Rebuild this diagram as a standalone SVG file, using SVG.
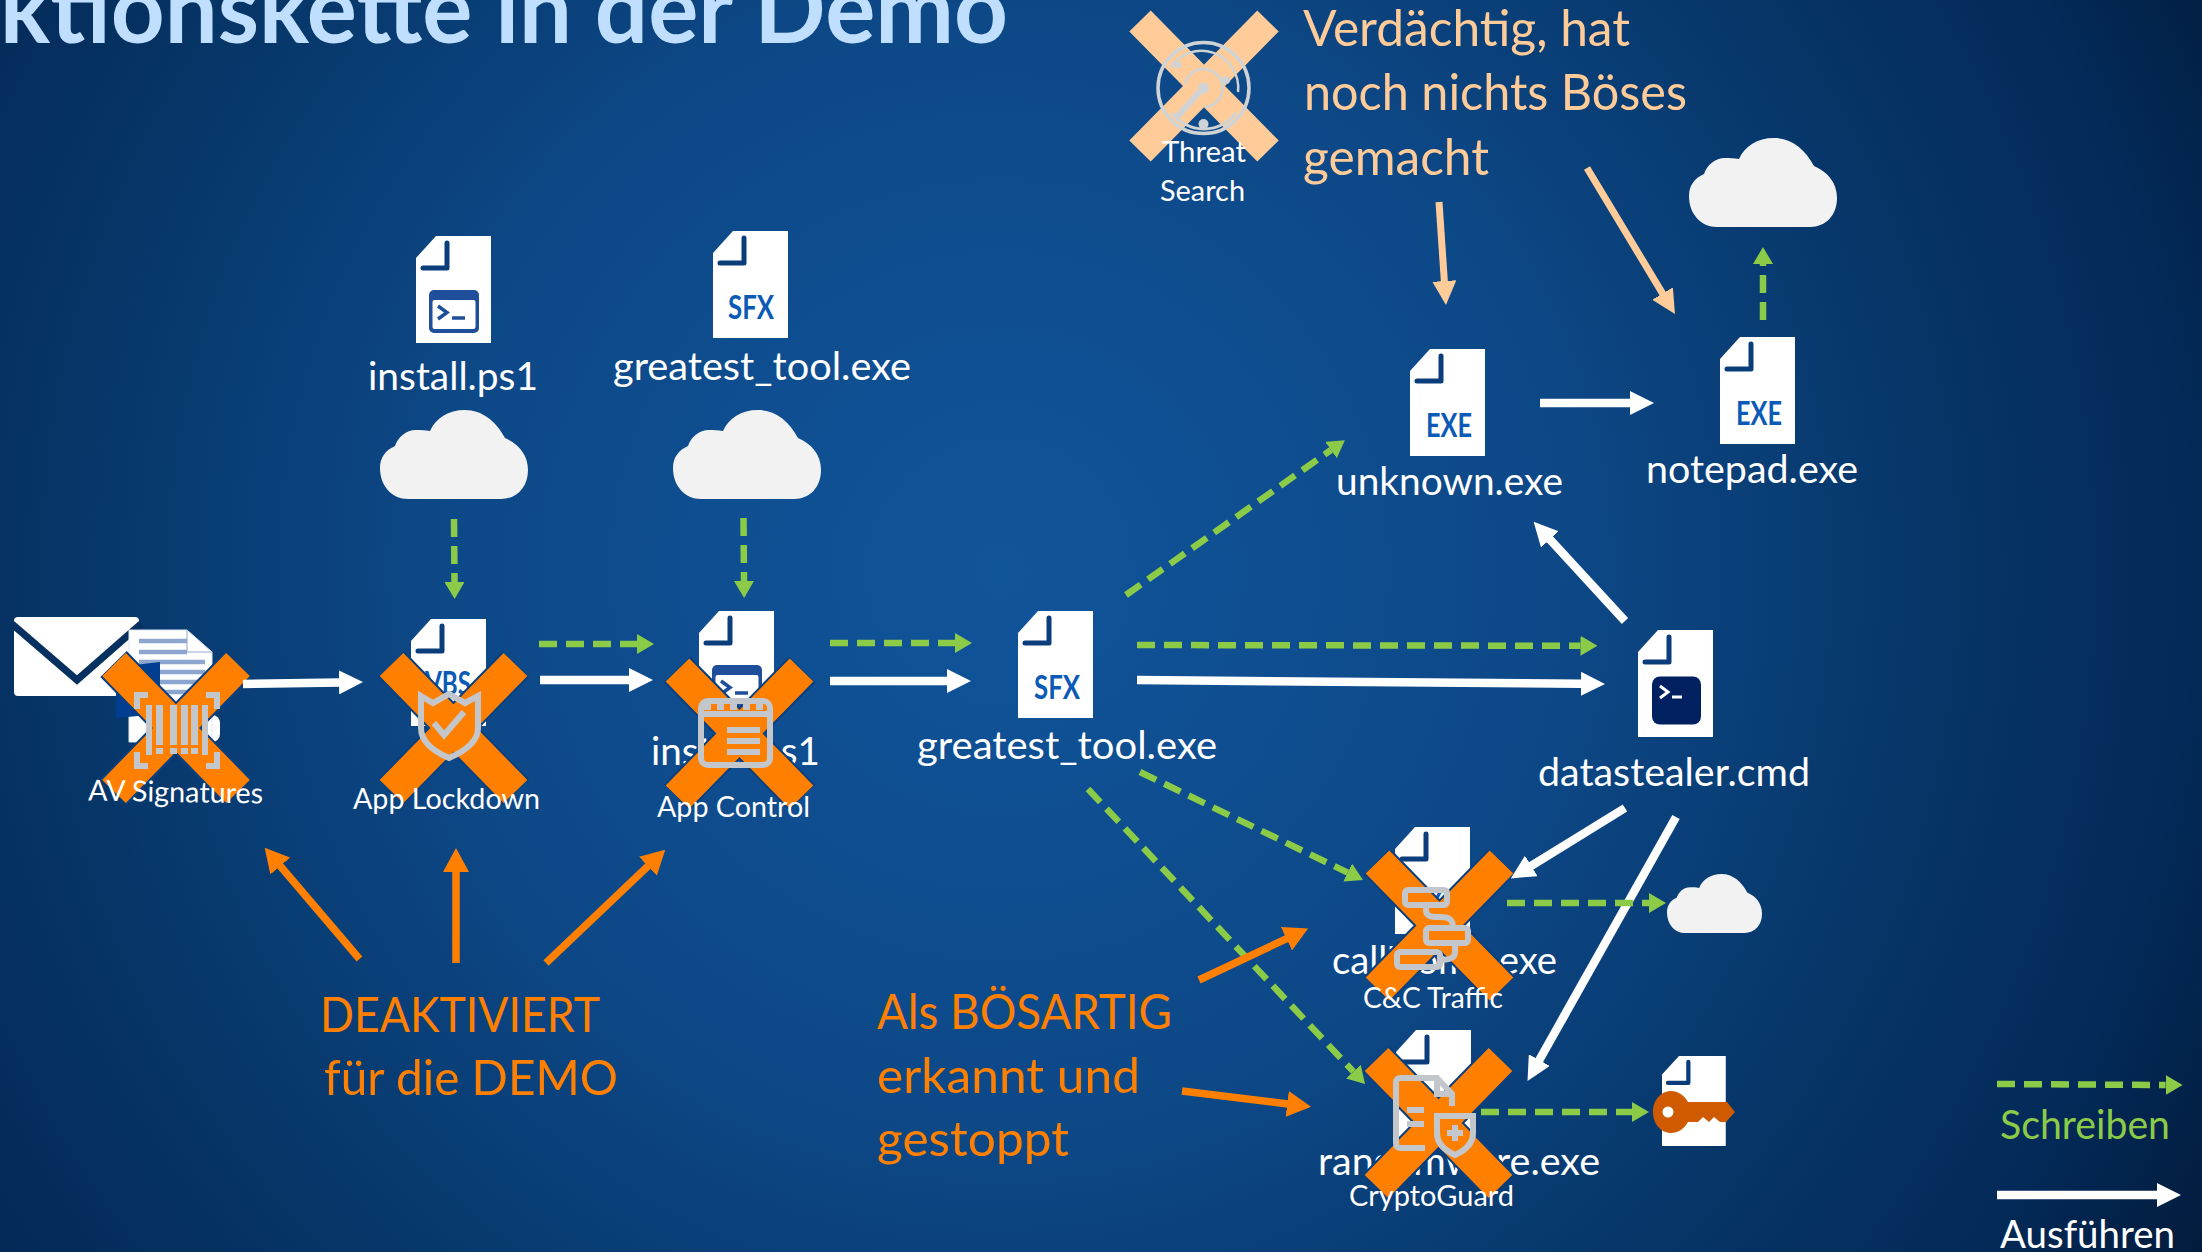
<svg xmlns="http://www.w3.org/2000/svg" xmlns:xlink="http://www.w3.org/1999/xlink" width="2202" height="1252" viewBox="0 0 2202 1252">
<style>
text{font-family:"Lato","Liberation Sans",sans-serif}
.l{fill:#fff;font-size:39px;transform:translateY(1.5px)}
.s{fill:#fff;font-size:29px}
.o{fill:#ff8000;font-size:49px;transform:translateY(1px)}
.p{fill:#ffcc99;font-size:50px;transform:translateY(1.5px)}
.ft{fill:#0b5ab5;font-size:33px;font-weight:700;text-anchor:middle}
.w{stroke:#fff;stroke-width:8.5;fill:none;marker-end:url(#mw)}
.g{stroke:#8ccb47;stroke-width:6.5;stroke-dasharray:18 9;fill:none;marker-end:url(#mg)}
.pa{stroke:#ffcc99;stroke-width:7;fill:none;marker-end:url(#mp)}
.oa{stroke:#ff8000;stroke-width:7.5;fill:none;marker-end:url(#mo)}
.gi{fill:none;stroke:#c3c7cb;stroke-width:6}
.gf{fill:#c3c7cb}
</style>
<defs>
<radialGradient id="bg" gradientUnits="userSpaceOnUse" cx="1000" cy="570" r="1400">
<stop offset="0" stop-color="#10549a"/>
<stop offset="0.4" stop-color="#0d4887"/>
<stop offset="0.72" stop-color="#053262"/>
<stop offset="0.85" stop-color="#032a58"/>
<stop offset="1" stop-color="#021a3a"/>
</radialGradient>
<marker id="mw" markerUnits="userSpaceOnUse" viewBox="0 -12 24 24" refX="1" refY="0" markerWidth="24" markerHeight="24" orient="auto"><path d="M0-12 24 0 0 12Z" fill="#fff"/></marker>
<marker id="mg" markerUnits="userSpaceOnUse" viewBox="0 -10 17 20" refX="0" refY="0" markerWidth="17" markerHeight="20" orient="auto"><path d="M0-10 17 0 0 10Z" fill="#8ccb47"/></marker>
<marker id="mp" markerUnits="userSpaceOnUse" viewBox="0 -12 24 24" refX="1" refY="0" markerWidth="24" markerHeight="24" orient="auto"><path d="M0-12 24 0 0 12Z" fill="#ffcc99"/></marker>
<marker id="mo" markerUnits="userSpaceOnUse" viewBox="0 -13 24 26" refX="1" refY="0" markerWidth="24" markerHeight="26" orient="auto"><path d="M0-13 24 0 0 13Z" fill="#ff8000"/></marker>
<g id="file">
<path d="M20 0H75V107H0V22Z" fill="#fff"/>
<path d="M31 7V32H7" fill="none" stroke="#0c3d7b" stroke-width="5" stroke-linecap="round" stroke-linejoin="round"/>
</g>
<g id="ps">
<rect x="13" y="54" width="50" height="43" rx="5" fill="#1f4e9a"/>
<rect x="16.500" y="64" width="43" height="29" rx="2" fill="#fff"/>
<path d="M22 70 31 76.500 22 83" fill="none" stroke="#1f4e9a" stroke-width="3.500"/>
<path d="M36 82H49" stroke="#1f4e9a" stroke-width="3.500"/>
</g>
<path id="cloud" d="M28 89C12 89 0 76 0 58C0 47 6 40 15 36C18 27 26 20 36 20C41 20 45 20 50 21C56 8 68 0 85 0C102 0 116 11 125 28C139 34 148 45 148 60C148 77 137 89 121 89Z" fill="#f2f2f2"/>
<g id="xo">
<path d="M-62.500-64 62.500 64M62.500-64-62.500 64" stroke="#0a3f80" stroke-width="37" fill="none"/>
<path d="M-62-63.500 62 63.500M62-63.500-62 63.500" stroke="#ff8000" stroke-width="33" fill="none"/>
</g>
</defs>
<rect width="2202" height="1252" fill="url(#bg)"/>
<text id="title" x="0" y="43" font-size="96" font-weight="700" fill="#c0dfff" textLength="1008" lengthAdjust="spacingAndGlyphs">ktionskette in der Demo</text>

<g id="node-install-top">
<use xlink:href="#file" x="416" y="236"/><use xlink:href="#ps" x="416" y="236"/>
<text class="l" x="368" y="388" textLength="170" lengthAdjust="spacingAndGlyphs">install.ps1</text>
</g>
<g id="node-greatest-top">
<use xlink:href="#file" x="713" y="231"/><text class="ft" x="751" y="319" textLength="46" lengthAdjust="spacingAndGlyphs">SFX</text>
<text class="l" x="613" y="378" textLength="298" lengthAdjust="spacingAndGlyphs">greatest_tool.exe</text>
</g>
<g id="node-cloud-1"><use xlink:href="#cloud" x="380" y="410"/></g>
<g id="node-cloud-2"><use xlink:href="#cloud" x="673" y="410"/></g>
<g id="node-cloud-3"><use xlink:href="#cloud" x="1689" y="138"/></g>
<g id="node-cloud-4"><use xlink:href="#cloud" transform="translate(1667 874) scale(.642 .663)"/></g>

<g id="node-email">
<rect x="14" y="617" width="125" height="79" rx="4" fill="#fff"/>
<path d="M12 624 77 680 141 624" fill="none" stroke="#05305f" stroke-width="7"/>
<rect x="132" y="715" width="88" height="27" rx="8" fill="#fff"/>
<path d="M129 630H187L212 652V742H129Z" fill="#fff" stroke="#dfe7f3" stroke-width="1"/>
<path d="M187 630V652H212" fill="none" stroke="#b8c8e0" stroke-width="1.500"/>
<path d="M139 641H187M139 652H187M139 662H205M139 672H205M139 682H205M139 692H205" stroke="#8da6cf" stroke-width="4.500"/>
<path d="M116 667 160 662V714L116 718Z" fill="#003e92"/>
<path d="M215 701H228V707H215Z" fill="#003e92"/>
</g>
<g id="node-av">
<use xlink:href="#xo" x="176" y="728"/>
<path class="gi" d="M148 695H137V709M206 695H217V709M148 766H137V752M206 766H217V752"/>
<path class="gf" d="M146 705h6v50h-6zM156 705h7v40h-7zM170 705h7v40h-7zM181 705h7v40h-7zM191 705h7v40h-7zM202 705h6v50h-6zM156 748h7v6h-7zM170 748h7v6h-7zM181 748h7v6h-7zM191 748h7v6h-7z"/>
<text class="s" x="88" y="802" textLength="175" lengthAdjust="spacingAndGlyphs" transform="rotate(1 175 802)">AV Signatures</text>
</g>
<g id="node-lockdown">
<use xlink:href="#file" x="411" y="619"/><text class="ft" x="448" y="695" textLength="46" lengthAdjust="spacingAndGlyphs">VBS</text>
<use xlink:href="#xo" x="453.500" y="728"/>
<path class="gi" d="M421 696 433 703 449 694 465 703 478 696V728C478 742 463 752 449 758C435 752 421 742 421 728Z"/>
<path class="gi" d="M434 723 444 735 464 712"/>
<text class="s" x="353" y="809" textLength="187" lengthAdjust="spacingAndGlyphs">App Lockdown</text>
</g>
<g id="node-control">
<use xlink:href="#file" x="699" y="611"/><use xlink:href="#ps" x="699" y="611"/>
<text class="l" x="651" y="763" textLength="169" lengthAdjust="spacingAndGlyphs">install.ps1</text>
<use xlink:href="#xo" x="739.500" y="733.500"/>
<rect class="gi" x="701" y="701" width="69" height="64" rx="7"/>
<path class="gi" d="M701 714H770"/>
<path class="gi" stroke-dasharray="7 6" d="M704 707H768"/>
<path class="gi" d="M727 730H760M727 741H760M727 752H760"/>
<text class="s" x="657" y="817" textLength="153" lengthAdjust="spacingAndGlyphs">App Control</text>
</g>
<g id="node-greatest">
<use xlink:href="#file" x="1018" y="611"/><text class="ft" x="1057" y="699" textLength="46" lengthAdjust="spacingAndGlyphs">SFX</text>
<text class="l" x="917" y="757" textLength="300" lengthAdjust="spacingAndGlyphs">greatest_tool.exe</text>
</g>
<g id="node-unknown">
<use xlink:href="#file" x="1410" y="349"/><text class="ft" x="1449" y="437" textLength="46" lengthAdjust="spacingAndGlyphs">EXE</text>
<text class="l" x="1336" y="493" textLength="227" lengthAdjust="spacingAndGlyphs">unknown.exe</text>
</g>
<g id="node-notepad">
<use xlink:href="#file" x="1720" y="337"/><text class="ft" x="1759" y="425" textLength="46" lengthAdjust="spacingAndGlyphs">EXE</text>
<text class="l" x="1646" y="481" textLength="212" lengthAdjust="spacingAndGlyphs">notepad.exe</text>
</g>
<g id="node-datastealer">
<use xlink:href="#file" x="1638" y="630"/>
<rect x="1652" y="676.500" width="49" height="48" rx="8" fill="#002060"/>
<path d="M1660 686 1668 692 1660 698" fill="none" stroke="#fff" stroke-width="3"/>
<path d="M1672 697H1682" stroke="#fff" stroke-width="3"/>
<text class="l" x="1538" y="784" textLength="272" lengthAdjust="spacingAndGlyphs">datastealer.cmd</text>
</g>
<g id="node-callhome">
<use xlink:href="#file" x="1395" y="827"/><text class="ft" x="1434" y="915" textLength="46" lengthAdjust="spacingAndGlyphs">EXE</text>
<text class="l" x="1332" y="972" textLength="225" lengthAdjust="spacingAndGlyphs">call'home.exe</text>
<use xlink:href="#xo" x="1439.500" y="925.500"/>
<rect class="gi" x="1405" y="890" width="42" height="15" rx="3"/>
<rect class="gi" x="1426" y="928" width="42" height="15" rx="3"/>
<rect class="gi" x="1397" y="952" width="43" height="15" rx="3"/>
<path class="gi" d="M1426 905V910C1426 916 1430 917 1440 917C1450 917 1453 920 1453 928M1455 943V952C1455 958 1450 960 1440 960"/>
<text class="s" x="1363" y="1008" textLength="140" lengthAdjust="spacingAndGlyphs">C&amp;C Traffic</text>
</g>
<g id="node-ransomware">
<use xlink:href="#file" x="1396" y="1030"/>
<text class="l" x="1318" y="1173" textLength="282" lengthAdjust="spacingAndGlyphs">ransomware.exe</text>
<use xlink:href="#xo" x="1438.500" y="1123"/>
<path class="gi" d="M1425 1148H1401C1397 1148 1396 1146 1396 1143V1083C1396 1080 1397 1078 1401 1078H1437L1452 1094V1106"/>
<path class="gi" d="M1437 1078V1094H1452"/>
<path class="gi" d="M1407 1110H1424M1407 1124H1424"/>
<path class="gi" d="M1437 1116H1473V1133C1473 1144 1464 1151 1455 1155C1446 1151 1437 1144 1437 1133Z"/>
<path class="gi" d="M1455 1125V1141M1447 1133H1463"/>
<text class="s" x="1349" y="1206" textLength="165" lengthAdjust="spacingAndGlyphs">CryptoGuard</text>
</g>
<g id="node-threat">
<path d="M1140 21 1268 151M1268 21 1140 151" stroke="#ffcc99" stroke-width="30" fill="none"/>
<g fill="none" stroke="#d0d3d6">
<circle cx="1203.500" cy="88" r="45.500" stroke-width="3.500"/>
<path d="M1170 68A37 37 0 0 1 1238 92" stroke-width="2.500"/>
<path d="M1185 84A19 19 0 1 1 1205 107" stroke-width="2.500"/>
<path d="M1172 113A40 40 0 0 0 1236 113" stroke-width="3"/>
<path d="M1203 88 1176 118" stroke-width="6"/>
</g>
<g fill="#d0d3d6"><circle cx="1203.500" cy="88" r="5.500"/><circle cx="1178" cy="65" r="3.500"/><circle cx="1226" cy="80" r="4"/><circle cx="1203.500" cy="124" r="5"/></g>
<text class="s" x="1162" y="162" textLength="84" lengthAdjust="spacingAndGlyphs">Threat</text>
<text class="s" x="1160" y="200.500" textLength="85" lengthAdjust="spacingAndGlyphs">Search</text>
</g>
<g id="node-keyfile">
<g transform="translate(1662 1056) scale(.85 .84)"><use xlink:href="#file"/></g>
<path d="M1671 1091C1678 1091 1684 1095 1688 1102H1727L1735 1112 1726 1122H1720L1714 1117 1709 1122 1703 1117 1698 1122H1688C1684 1129 1678 1133 1671 1133C1661 1133 1653 1124 1653 1112C1653 1100 1661 1091 1671 1091Z" fill="#d05a00"/>
<circle cx="1668" cy="1112" r="5.500" fill="#fff"/>
</g>

<g id="connectors">
<path class="w" d="M243 684 340 682.400"/>
<path class="w" d="M540 680H630"/>
<path class="w" d="M830 681H948"/>
<path class="w" d="M1137 680 1582 683.800"/>
<path class="w" d="M1540 403H1631"/>
<path class="w" d="M1625 621 1549.200 538.700"/>
<path class="w" d="M1625 808 1530.400 866.400"/>
<path class="w" d="M1676 817 1538.800 1061"/>
<path class="w" d="M1997 1195H2158"/>
<path class="g" d="M454 519 454.500 582"/>
<path class="g" d="M743.500 518 744 581"/>
<path class="g" d="M539 644H637"/>
<path class="g" d="M830 643H955"/>
<path class="g" d="M1137 645 1580.500 645.800"/>
<path class="g" d="M1126 595 1331 450"/>
<path class="g" d="M1140 772 1347.700 872.600"/>
<path class="g" d="M1088 789 1353.400 1071.600"/>
<path class="g" d="M1507 903H1649"/>
<path class="g" d="M1481 1112H1632"/>
<path class="g" d="M1763 320V264"/>
<path class="g" d="M1997 1084 2165.600 1085"/>
<path class="pa" d="M1439 202 1444.400 282"/>
<path class="pa" d="M1587 168 1663.100 294.400"/>
<path class="oa" d="M359.500 959 279.600 865.300"/>
<path class="oa" d="M456 963V871"/>
<path class="oa" d="M546 963 648.600 865.500"/>
<path class="oa" d="M1199 980 1287.300 938.300"/>
<path class="oa" d="M1182 1091 1288.200 1104"/>
</g>

<g id="notes">
<text class="p" x="1303" y="44" textLength="327" lengthAdjust="spacingAndGlyphs">Verdächtig, hat</text>
<text class="p" x="1304" y="108" textLength="383" lengthAdjust="spacingAndGlyphs">noch nichts Böses</text>
<text class="p" x="1303" y="173" textLength="186" lengthAdjust="spacingAndGlyphs">gemacht</text>
<text class="o" x="320" y="1031" textLength="280" lengthAdjust="spacingAndGlyphs">DEAKTIVIERT</text>
<text class="o" x="324" y="1094" textLength="294" lengthAdjust="spacingAndGlyphs">für die DEMO</text>
<text class="o" x="877" y="1028" textLength="295" lengthAdjust="spacingAndGlyphs">Als BÖSARTIG</text>
<text class="o" x="877" y="1092" textLength="263" lengthAdjust="spacingAndGlyphs">erkannt und</text>
<text class="o" x="877" y="1155" textLength="192" lengthAdjust="spacingAndGlyphs">gestoppt</text>
<text x="2000" y="1138.500" font-size="40" fill="#8ccb47" textLength="170" lengthAdjust="spacingAndGlyphs">Schreiben</text>
<text class="l" x="2000" y="1246" textLength="175" lengthAdjust="spacingAndGlyphs">Ausführen</text>
</g>
</svg>
